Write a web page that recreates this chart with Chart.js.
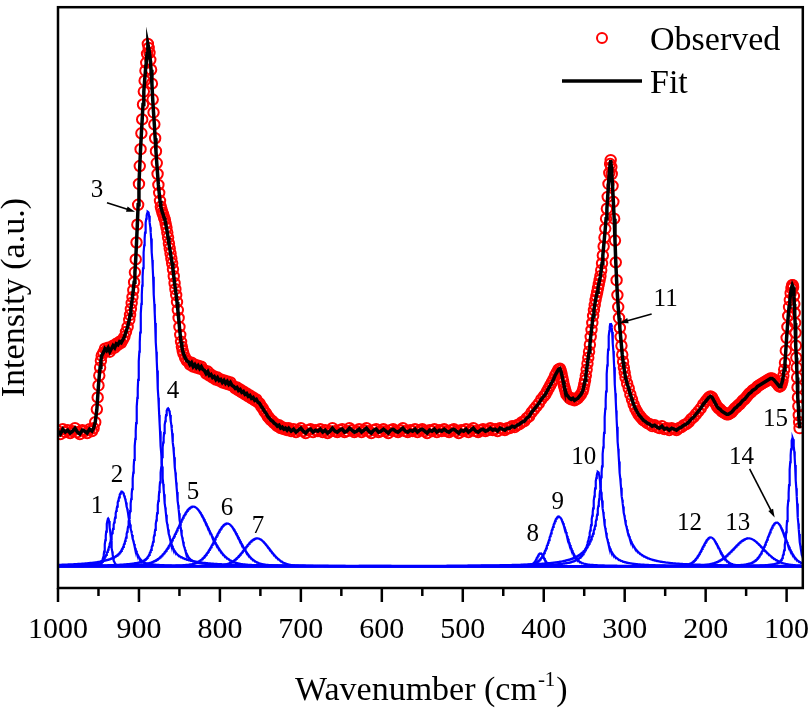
<!DOCTYPE html>
<html>
<head>
<meta charset="utf-8">
<script src="https://cdn.jsdelivr.net/npm/chart.js@4.4.1/dist/chart.umd.min.js"></script>
<style>
  html, body { margin: 0; padding: 0; background: #fff; }
  #chart { display: block; }
</style>
</head>
<body>
<canvas id="chart" width="810" height="708"></canvas>
<script>
// observed spectrum, [wavenumber, intensity]
const observed = [
    [1000,136],[997,133],[994,138],[991,135],[988,137],[985,134],[982,136],[979,139],[976,135],[973,133],
    [970,137],[967,136],[964,134],[961,138],[958,136],[956,139],[954,145],[952,158],[951,170],[950,182],
    [949,192],[948,200],[947,207],[946,212],[944,215],[942,219],[940,217],[938,220],[936,216],[934,219],
    [932,222],[930,220],[928,224],[926,223],[924,226],[922,225],[920,228],[918,231],[916,236],[914,241],
    [912,248],[911,253],[910,259],[909,265],[908,271],[907,278],[906,286],[905,296],[904,309],[903,326],
    [902,344],[901,364],[900,385],[899,403],[898,420],[897,436],[896,450],[895,465],[894,478],[893,489],
    [892,499],[891,507],[890,516],[889,526],[888,522],[887,517],[886,510],[885,500],[884,486],[883,470],
    [882,457],[881,445],[880,431],[879,418],[878,406],[877,395],[876,384],[875,376],[874,368],[873,362],
    [872,359],[871,356],[870,354],[869,351],[868,349],[867,345],[866,341],[865,336],[864,331],[863,325],
    [862,320],[861,315],[860,310],[859,305],[858,299],[857,292],[856,285],[855,279],[854,273],[853,266],
    [852,258],[851,250],[850,241],[849,233],[848,226],[847,221],[846,217],[845,214],[843,210],[841,207],
    [839,206],[837,203],[835,205],[833,201],[831,203],[829,200],[827,202],[825,199],[823,201],[821,198],
    [819,197],[817,194],[815,196],[813,192],[811,193],[809,190],[807,191],[805,188],[803,190],[801,187],
    [799,188],[797,185],[795,187],[793,184],[791,186],[789,183],[787,185],[785,182],[783,181],[781,179],
    [779,180],[777,177],[775,178],[773,175],[771,176],[769,173],[767,174],[765,171],[763,172],[761,169],
    [759,170],[757,167],[755,168],[753,165],[751,164],[749,161],[747,159],[745,156],[743,154],[741,151],
    [739,149],[737,147],[735,146],[733,144],[731,143],[729,141],[727,142],[725,139],[723,140],[721,138],
    [719,139],[717,137],[715,139],[712,136],[709,138],[706,135],[703,137],[700,139],[697,136],[694,134],
    [691,137],[688,138],[685,135],[682,137],[679,136],[676,138],[673,135],[670,137],[667,134],[664,136],
    [661,139],[658,136],[655,135],[652,137],[649,138],[646,135],[643,136],[640,139],[637,137],[634,135],
    [631,136],[628,138],[625,135],[622,137],[619,139],[616,136],[613,134],[610,137],[607,138],[604,135],
    [601,136],[598,138],[595,136],[592,134],[589,137],[586,138],[583,136],[580,135],[577,137],[574,139],
    [571,136],[568,135],[565,137],[562,136],[559,138],[556,135],[553,137],[550,138],[547,136],[544,134],
    [541,137],[538,136],[535,138],[532,135],[529,137],[526,136],[523,138],[520,136],[517,135],[514,137],
    [511,138],[508,136],[505,134],[502,137],[499,136],[496,138],[493,135],[490,137],[487,139],[484,136],
    [481,135],[478,137],[475,138],[472,136],[469,137],[466,139],[463,137],[460,138],[457,136],[454,139],
    [451,138],[448,137],[445,139],[442,139],[439,141],[436,140],[433,142],[430,143],[427,145],[424,146],
    [421,149],[418,151],[415,155],[412,158],[409,161],[406,164],[403,168],[400,171],[398,173],[396,176],
    [394,179],[392,182],[390,185],[388,188],[386,192],[384,195],[382,198],[380,199],[379,197],[378,194],
    [377,190],[376,186],[375,182],[374,179],[373,176],[372,173],[370,171],[368,169],[366,168],[364,169],
    [362,167],[360,168],[358,169],[356,171],[354,173],[352,176],[351,179],[350,183],[349,187],[348,192],
    [347,198],[346,204],[345,210],[344,216],[343,223],[342,231],[341,238],[340,245],[339,252],[338,258],
    [337,263],[336,268],[335,272],[334,276],[333,280],[332,284],[331,288],[330,292],[329,298],[328,305],
    [327,313],[326,322],[325,331],[324,340],[323,350],[322,360],[321,372],[320,385],[319,396],[318,405],
    [317.3,409],[316.5,402],[316,395],[315,383],[314,367],[313,350],[312,328],[311,306],[310,288],[309,273],
    [308,261],[307,250],[306,240],[305,231],[304,222],[303,213],[302,206],[301,200],[300,195],[299,190],
    [297,184],[295,179],[293,173],[291,168],[289,163],[287,159],[285,156],[283,153],[281,151],[279,149],
    [277,147],[275,146],[272,144],[269,143],[266,141],[263,142],[260,140],[257,139],[254,141],[251,138],
    [248,139],[245,137],[242,139],[239,138],[236,137],[233,139],[230,140],[227,142],[224,143],[221,145],
    [218,148],[215,150],[212,153],[209,156],[206,159],[203,163],[200,166],[198,168],[196,170],[194,171],
    [192,170],[190,167],[188,164],[186,161],[184,159],[182,158],[180,156],[178,155],[176,154],[174,153],
    [172,153],[170,154],[168,155],[166,157],[164,159],[162,160],[160,162],[158,163],[156,165],[154,167],
    [152,168],[150,170],[148,172],[146,174],[144,175],[142,177],[140,178],[138,179],[136,181],[134,182],
    [132,183],[130,184],[128,185],[126,186],[124,187],[122,188],[120,189],[118,189],[116,188],[114,186],
    [112,184],[110,182],[109,181],[108,181],[107,182],[106,184],[105,187],[104,192],[103,198],[102,205],
    [101,217],[100,230],[99,241],[98,252],[97,261],[96,268],[95,275],[94,280],[93,283],[92.5,283],
    [92,281],[91,272],[90.5,264],[90,255],[89.5,245],[89,235],[88.5,222],[88,210],[87.5,200],[87,190],
    [86.5,180],[86,170],[85.5,161],[85,152],[84.5,145],[84,139]
];

// fitted components: centre (cm-1), height, FWHM (cm-1), lorentz fraction
const peakLabels = ['1', '2', '3', '4', '5', '6', '7', '8', '9', '10', '11', '12', '13', '14', '15'];
const peakCenters = [938, 921, 889, 864, 833, 791, 754, 404, 381.5, 333, 317.3, 193.8, 147, 112.3, 92.6];
const peakHeights = [48, 75, 357, 159, 60, 43, 28, 13, 50, 95, 245, 29, 28, 44, 129];
const peakWidths = [7.5, 22, 25, 21, 47, 37, 37, 11, 25, 15, 18, 25, 45, 28, 11];
const peakShapes = [0.2, 0.3, 0.3, 0.3, 0.2, 0.2, 0.1, 0.2, 0.3, 0.9, 0.9, 0.2, 0.2, 0.3, 0.3];

const xTicks = [1000, 900, 800, 700, 600, 500, 400, 300, 200, 100];

// where the peak numbers and arrows sit, in data units
const labelAt = [
    [951.9, 60], [927.2, 91], [951.9, 378], [858, 176], [833.3, 74], [791.4, 58], [753.1, 40],
    [413.6, 32], [382.7, 64], [350.6, 110], [249.4, 269], [219.8, 43], [160.5, 43], [155.6, 110], [113.6, 148]
];
const arrows = [
    [[939.5, 366], [904.9, 357]],
    [[266.7, 254], [306.2, 245]],
    [[145.7, 98], [114.8, 49]]
];

const SERIF = '"Liberation Serif", "Times New Roman", serif';

function pseudoVoigt(x, c, h, w, eta) {
    const d = (x - c) / w;
    const g = Math.exp(-4 * Math.LN2 * d * d);
    const l = 1 / (1 + 4 * d * d);
    return h * (eta * l + (1 - eta) * g);
}

function componentData(i) {
    const pts = [];
    for (let x = 1000; x >= 80; x -= 0.5) {
        pts.push({ x, y: pseudoVoigt(x, peakCenters[i], peakHeights[i], peakWidths[i], peakShapes[i]) });
    }
    return pts;
}

function drawArrow(ctx, x0, y0, x1, y1) {
    const ang = Math.atan2(y1 - y0, x1 - x0);
    const head = 9;
    ctx.beginPath();
    ctx.moveTo(x0, y0);
    ctx.lineTo(x1 - Math.cos(ang) * head * 0.8, y1 - Math.sin(ang) * head * 0.8);
    ctx.stroke();
    ctx.beginPath();
    ctx.moveTo(x1, y1);
    ctx.lineTo(x1 - head * Math.cos(ang - 0.3), y1 - head * Math.sin(ang - 0.3));
    ctx.lineTo(x1 - head * Math.cos(ang + 0.3), y1 - head * Math.sin(ang + 0.3));
    ctx.closePath();
    ctx.fill();
}

const decorations = {
    id: 'decorations',
    afterDraw(chart) {
        const { ctx, chartArea: a, scales: { x, y } } = chart;
        ctx.save();
        ctx.strokeStyle = '#000';
        ctx.fillStyle = '#000';

        // frame + bottom ticks (major every 100, minor every 50)
        ctx.lineWidth = 2.5;
        ctx.strokeRect(a.left, a.top, a.right - a.left, a.bottom - a.top);
        for (let v = 100; v <= 1000; v += 50) {
            const px = x.getPixelForValue(v);
            const len = v % 100 === 0 ? 14 : 8;
            ctx.beginPath();
            ctx.moveTo(px, a.bottom);
            ctx.lineTo(px, a.bottom + len);
            ctx.stroke();
        }

        // x title with superscript
        const cx = (a.left + a.right) / 2;
        const base = 700;
        ctx.textBaseline = 'alphabetic';
        ctx.textAlign = 'left';
        const big = `34px ${SERIF}`;
        const small = `21px ${SERIF}`;
        ctx.font = big;
        const w1 = ctx.measureText('Wavenumber (cm').width;
        const w3 = ctx.measureText(')').width;
        ctx.font = small;
        const w2 = ctx.measureText('-1').width;
        const sx = cx - (w1 + w2 + w3) / 2;
        ctx.font = big;
        ctx.fillText('Wavenumber (cm', sx, base);
        ctx.font = small;
        ctx.fillText('-1', sx + w1 + 1, base - 14);
        ctx.font = big;
        ctx.fillText(')', sx + w1 + w2 + 2, base);

        // y title
        ctx.save();
        ctx.translate(24, (a.top + a.bottom) / 2);
        ctx.rotate(-Math.PI / 2);
        ctx.textAlign = 'center';
        ctx.font = big;
        ctx.fillText('Intensity (a.u.)', 0, 0);
        ctx.restore();

        // legend
        ctx.beginPath();
        ctx.arc(602, 38, 5, 0, Math.PI * 2);
        ctx.strokeStyle = '#ff0000';
        ctx.lineWidth = 2;
        ctx.stroke();
        ctx.strokeStyle = '#000';
        ctx.lineWidth = 3.5;
        ctx.beginPath();
        ctx.moveTo(562, 81);
        ctx.lineTo(642, 81);
        ctx.stroke();
        ctx.font = big;
        ctx.fillText('Observed', 650, 50);
        ctx.fillText('Fit', 650, 93);

        // peak numbers
        ctx.font = `25px ${SERIF}`;
        ctx.textAlign = 'center';
        ctx.textBaseline = 'middle';
        peakLabels.forEach((t, i) => {
            ctx.fillText(t, x.getPixelForValue(labelAt[i][0]), y.getPixelForValue(labelAt[i][1]));
        });

        // arrows
        ctx.lineWidth = 1.6;
        arrows.forEach(([p0, p1]) => {
            drawArrow(ctx,
                x.getPixelForValue(p0[0]), y.getPixelForValue(p0[1]),
                x.getPixelForValue(p1[0]), y.getPixelForValue(p1[1]));
        });
        ctx.restore();
    }
};

const obsPoints = observed.map(([x, y]) => ({ x, y }));

const datasets = [
    {
        label: 'Fit',
        data: obsPoints,
        showLine: true,
        borderColor: '#000',
        borderWidth: 3.5,
        pointRadius: 0,
        order: 0,
    },
    {
        label: 'Observed',
        data: obsPoints,
        showLine: false,
        pointStyle: 'circle',
        pointRadius: 5.2,
        pointBorderWidth: 2,
        pointBorderColor: '#ff0000',
        pointBackgroundColor: 'rgba(0,0,0,0)',
        order: 1,
    },
];

peakLabels.forEach((name, i) => {
    datasets.push({
        label: `Peak ${name}`,
        data: componentData(i),
        showLine: true,
        borderColor: '#0000ff',
        borderWidth: 2.2,
        pointRadius: 0,
        order: 2,
    });
});

new Chart(document.getElementById('chart').getContext('2d'), {
    type: 'scatter',
    data: { datasets },
    options: {
        responsive: false,
        animation: false,
        devicePixelRatio: 1,
        events: [],
        layout: { padding: { left: 58, right: 7, top: 3, bottom: 0 } },
        plugins: {
            legend: { display: false },
            tooltip: { enabled: false },
        },
        scales: {
            x: {
                type: 'linear',
                reverse: true,
                min: 80,
                max: 1000,
                afterBuildTicks: (scale) => {
                    scale.ticks = xTicks.map((v) => ({ value: v }));
                },
                afterFit: (scale) => {
                    scale.height = 120;
                    scale.paddingLeft = 0;
                    scale.paddingRight = 0;
                },
                grid: { display: false, drawTicks: false },
                border: { display: false },
                ticks: {
                    autoSkip: false,
                    maxRotation: 0,
                    padding: 24,
                    color: '#000',
                    font: { family: SERIF, size: 30 },
                    callback: (v) => String(v),
                },
            },
            y: {
                display: false,
                min: -22,
                max: 563,
            },
        },
    },
    plugins: [decorations],
});
</script>
</body>
</html>
